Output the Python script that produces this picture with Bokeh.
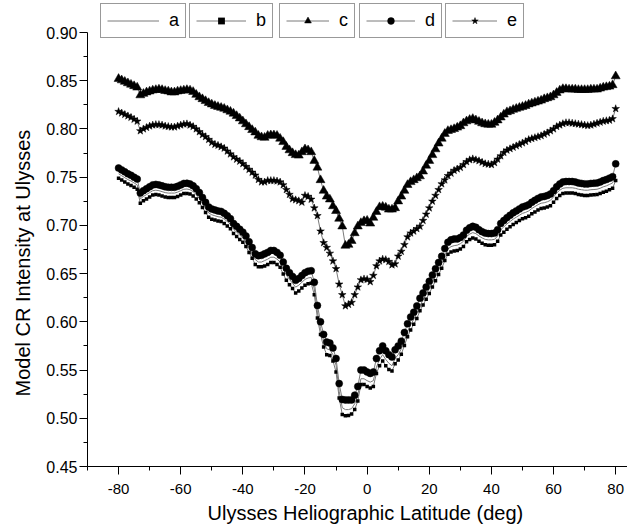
from bokeh.plotting import figure
from bokeh.models import Range1d, FixedTicker, Legend, LegendItem, NumeralTickFormatter, Title
from bokeh.embed import file_html
from bokeh.resources import INLINE

# Heliographic latitude (deg), one sample per degree
lat = list(range(-80, 81))

series_names = ["a", "b", "c", "d", "e"]

a_vals = [
    0.7535, 0.7515, 0.7495, 0.7475, 0.746, 0.744, 0.742, 0.7275, 0.730, 0.732,
    0.734, 0.736, 0.7365, 0.736, 0.735, 0.734, 0.7335, 0.7335, 0.7335, 0.7345,
    0.736, 0.7375, 0.7377, 0.737, 0.735, 0.732, 0.728, 0.723, 0.718, 0.713,
    0.711, 0.710, 0.709, 0.7085, 0.7065, 0.704, 0.701, 0.696, 0.693, 0.690,
    0.687, 0.683, 0.677, 0.671, 0.6645, 0.662, 0.662, 0.6635, 0.665, 0.667,
    0.667, 0.665, 0.662, 0.655, 0.6485, 0.644, 0.640, 0.636, 0.638, 0.641,
    0.644, 0.6455, 0.646, 0.634, 0.610, 0.593, 0.580, 0.572, 0.571, 0.566,
    0.555, 0.528, 0.511, 0.509, 0.509, 0.510, 0.515, 0.524, 0.541, 0.541,
    0.539, 0.5375, 0.539, 0.553, 0.561, 0.566, 0.561, 0.557, 0.5545, 0.562,
    0.566, 0.572, 0.581, 0.590, 0.597, 0.6025, 0.609, 0.617, 0.6225, 0.6285,
    0.6345, 0.641, 0.6475, 0.654, 0.661, 0.669, 0.6755, 0.678, 0.679, 0.6795,
    0.681, 0.6835, 0.6885, 0.691, 0.6925, 0.6915, 0.689, 0.687, 0.6855, 0.685,
    0.685, 0.6855, 0.689, 0.6955, 0.6985, 0.7015, 0.704, 0.7065, 0.7085, 0.7105,
    0.7125, 0.7135, 0.715, 0.7175, 0.7195, 0.7215, 0.723, 0.7235, 0.7245, 0.726,
    0.7295, 0.7335, 0.7365, 0.7385, 0.739, 0.739, 0.739, 0.7385, 0.7375, 0.737,
    0.7365, 0.7365, 0.737, 0.7372, 0.7375, 0.7385, 0.740, 0.741, 0.7425, 0.744,
    0.753,
]

b_vals = [
    0.749, 0.747, 0.745, 0.743, 0.7415, 0.7395, 0.7375, 0.723, 0.7255, 0.7275,
    0.7295, 0.7315, 0.732, 0.7315, 0.7305, 0.7295, 0.729, 0.729, 0.729, 0.730,
    0.7315, 0.733, 0.7332, 0.7325, 0.7305, 0.7275, 0.7235, 0.7185, 0.7135, 0.7085,
    0.7065, 0.7055, 0.7045, 0.704, 0.702, 0.6995, 0.6965, 0.6915, 0.6885, 0.6855,
    0.6825, 0.678, 0.672, 0.666, 0.6595, 0.657, 0.657, 0.658, 0.6595, 0.6615,
    0.6615, 0.6595, 0.6565, 0.6495, 0.643, 0.6385, 0.6345, 0.630, 0.632, 0.635,
    0.638, 0.6395, 0.640, 0.628, 0.604, 0.587, 0.574, 0.566, 0.565, 0.5595,
    0.548, 0.521, 0.504, 0.5025, 0.503, 0.5045, 0.509, 0.518, 0.535, 0.535,
    0.533, 0.5315, 0.533, 0.5465, 0.5545, 0.5595, 0.5545, 0.5505, 0.549, 0.5565,
    0.5605, 0.5665, 0.5755, 0.5845, 0.5915, 0.5975, 0.6035, 0.6115, 0.6175, 0.6235,
    0.6295, 0.636, 0.6425, 0.649, 0.6555, 0.6635, 0.670, 0.6725, 0.6735, 0.674,
    0.6755, 0.678, 0.683, 0.6855, 0.687, 0.686, 0.6835, 0.6815, 0.680, 0.6795,
    0.6795, 0.680, 0.6835, 0.690, 0.693, 0.696, 0.6985, 0.701, 0.703, 0.705,
    0.707, 0.708, 0.7095, 0.712, 0.714, 0.716, 0.7175, 0.718, 0.719, 0.7205,
    0.724, 0.728, 0.731, 0.733, 0.7335, 0.7335, 0.7335, 0.733, 0.732, 0.7315,
    0.731, 0.731, 0.7315, 0.7317, 0.732, 0.733, 0.7345, 0.7355, 0.737, 0.7385,
    0.7465,
]

c_vals = [
    0.852, 0.8505, 0.849, 0.8475, 0.846, 0.8445, 0.843, 0.835, 0.8365, 0.838,
    0.839, 0.840, 0.8405, 0.841, 0.8405, 0.8395, 0.839, 0.838, 0.838, 0.839,
    0.8395, 0.840, 0.8405, 0.840, 0.8385, 0.8355, 0.833, 0.831, 0.829, 0.827,
    0.8255, 0.824, 0.823, 0.822, 0.821, 0.8195, 0.818, 0.816, 0.8135, 0.811,
    0.808, 0.805, 0.802, 0.799, 0.7965, 0.793, 0.7915, 0.791, 0.793, 0.7935,
    0.7935, 0.793, 0.790, 0.7865, 0.7815, 0.778, 0.775, 0.773, 0.7725, 0.776,
    0.779, 0.778, 0.776, 0.767, 0.760, 0.747, 0.736, 0.730, 0.727, 0.720,
    0.715, 0.707, 0.699, 0.679, 0.680, 0.684, 0.692, 0.699, 0.7025, 0.7045,
    0.705, 0.702, 0.708, 0.714, 0.719, 0.7195, 0.7185, 0.7165, 0.7165, 0.718,
    0.725, 0.730, 0.736, 0.742, 0.745, 0.747, 0.749, 0.751, 0.756, 0.762,
    0.767, 0.773, 0.779, 0.785, 0.790, 0.795, 0.798, 0.799, 0.800, 0.8015,
    0.803, 0.806, 0.808, 0.8095, 0.8105, 0.809, 0.8075, 0.806, 0.805, 0.8045,
    0.8045, 0.8065, 0.809, 0.812, 0.815, 0.8175, 0.8185, 0.820, 0.821, 0.822,
    0.823, 0.824, 0.8255, 0.8265, 0.8275, 0.8285, 0.8295, 0.831, 0.832, 0.833,
    0.835, 0.8375, 0.840, 0.8415, 0.8415, 0.841, 0.841, 0.841, 0.8405, 0.8405,
    0.8405, 0.8405, 0.841, 0.841, 0.841, 0.842, 0.843, 0.8435, 0.844, 0.8455,
    0.8547,
]

d_vals = [
    0.7595, 0.7575, 0.7555, 0.7535, 0.752, 0.750, 0.748, 0.7335, 0.736, 0.738,
    0.740, 0.742, 0.7425, 0.742, 0.741, 0.740, 0.7395, 0.7395, 0.7395, 0.7405,
    0.742, 0.7435, 0.7437, 0.743, 0.741, 0.738, 0.734, 0.729, 0.724, 0.719,
    0.717, 0.716, 0.715, 0.7145, 0.7125, 0.710, 0.707, 0.702, 0.699, 0.696,
    0.693, 0.689, 0.683, 0.677, 0.6705, 0.6685, 0.669, 0.6705, 0.672, 0.674,
    0.674, 0.672, 0.669, 0.662, 0.6555, 0.651, 0.647, 0.643, 0.645, 0.648,
    0.651, 0.6525, 0.653, 0.641, 0.617, 0.600, 0.587, 0.579, 0.578, 0.573,
    0.562, 0.536, 0.5195, 0.519, 0.519, 0.519, 0.524, 0.533, 0.550, 0.550,
    0.548, 0.5465, 0.548, 0.562, 0.570, 0.575, 0.570, 0.566, 0.5635, 0.571,
    0.575, 0.580, 0.589, 0.598, 0.605, 0.610, 0.6165, 0.6245, 0.630, 0.636,
    0.642, 0.6485, 0.655, 0.6615, 0.668, 0.676, 0.6825, 0.685, 0.686, 0.686,
    0.6875, 0.690, 0.695, 0.6975, 0.699, 0.698, 0.6955, 0.6935, 0.692, 0.6915,
    0.6915, 0.692, 0.6955, 0.702, 0.705, 0.708, 0.7105, 0.713, 0.715, 0.717,
    0.719, 0.720, 0.7215, 0.724, 0.726, 0.728, 0.7295, 0.730, 0.731, 0.7325,
    0.736, 0.740, 0.743, 0.745, 0.7455, 0.7455, 0.7455, 0.745, 0.744, 0.7435,
    0.743, 0.743, 0.7435, 0.7437, 0.744, 0.745, 0.7465, 0.7475, 0.749, 0.7505,
    0.7638,
]

e_vals = [
    0.818, 0.8165, 0.815, 0.8135, 0.812, 0.810, 0.808, 0.798, 0.800, 0.8015,
    0.803, 0.804, 0.8045, 0.8045, 0.804, 0.803, 0.8025, 0.802, 0.802, 0.803,
    0.804, 0.805, 0.8053, 0.804, 0.8025, 0.800, 0.797, 0.794, 0.792, 0.789,
    0.786, 0.784, 0.783, 0.7815, 0.780, 0.777, 0.774, 0.771, 0.7685, 0.7665,
    0.764, 0.761, 0.758, 0.755, 0.752, 0.7475, 0.745, 0.745, 0.7465, 0.7465,
    0.7465, 0.746, 0.745, 0.742, 0.737, 0.732, 0.7275, 0.7265, 0.7255, 0.724,
    0.731, 0.730, 0.727, 0.718, 0.710, 0.694, 0.682, 0.677, 0.671, 0.663,
    0.655, 0.639, 0.628, 0.6165, 0.618, 0.620, 0.628, 0.636, 0.6435, 0.6445,
    0.644, 0.6415, 0.648, 0.658, 0.663, 0.665, 0.6645, 0.6625, 0.659, 0.660,
    0.668, 0.673, 0.680, 0.688, 0.692, 0.694, 0.6965, 0.699, 0.705, 0.7115,
    0.718, 0.725, 0.731, 0.737, 0.743, 0.747, 0.7515, 0.754, 0.757, 0.7585,
    0.760, 0.763, 0.766, 0.768, 0.769, 0.768, 0.767, 0.7655, 0.764, 0.7635,
    0.763, 0.765, 0.7685, 0.772, 0.7755, 0.778, 0.7795, 0.781, 0.7825, 0.784,
    0.7855, 0.787, 0.789, 0.790, 0.791, 0.792, 0.793, 0.7945, 0.796, 0.798,
    0.800, 0.8025, 0.804, 0.8055, 0.8065, 0.8065, 0.806, 0.8055, 0.805, 0.8045,
    0.804, 0.8035, 0.804, 0.805, 0.806, 0.807, 0.808, 0.8085, 0.809, 0.8105,
    0.821,
]

x_major_ticks = [-80, -60, -40, -20, 0, 20, 40, 60, 80]
x_minor_ticks = [-90, -70, -50, -30, -10, 10, 30, 50, 70]
y_major_ticks = [0.45, 0.50, 0.55, 0.60, 0.65, 0.70, 0.75, 0.80, 0.85, 0.90]
y_minor_ticks = [0.475, 0.525, 0.575, 0.625, 0.675, 0.725, 0.775, 0.825, 0.875]

x_title = "Ulysses Heliographic Latitude (deg)"
y_title = "Model CR Intensity at Ulysses"

for arr in (a_vals, b_vals, c_vals, d_vals, e_vals):
    assert len(arr) == len(lat), len(arr)

FONT = "Liberation Sans"

p = figure(
    width=627, height=532,
    x_range=Range1d(-90, 83.8), y_range=Range1d(0.45, 0.9332),
    output_backend="svg", toolbar_location=None,
    min_border_left=85, min_border_right=0, min_border_top=0, min_border_bottom=66,
)
p.outline_line_color = None
p.xgrid.visible = False
p.ygrid.visible = False

for ax in (p.xaxis[0], p.yaxis[0]):
    ax.axis_line_color = "black"
    ax.axis_line_width = 1
    ax.major_tick_line_color = "black"
    ax.minor_tick_line_color = "black"
    ax.major_tick_in = 0
    ax.major_tick_out = 8
    ax.minor_tick_in = 0
    ax.minor_tick_out = 4
    ax.major_label_text_font = FONT
    ax.major_label_text_color = "black"

p.xaxis.ticker = FixedTicker(ticks=x_major_ticks, minor_ticks=x_minor_ticks)
p.yaxis.ticker = FixedTicker(ticks=y_major_ticks, minor_ticks=y_minor_ticks)
p.yaxis.formatter = NumeralTickFormatter(format="0.00")
p.xaxis.formatter = NumeralTickFormatter(format="0")
p.xaxis.major_label_text_font_size = "15px"
p.yaxis.major_label_text_font_size = "16px"
p.xaxis.major_label_standoff = 9
p.yaxis.major_label_standoff = 2
p.xaxis.bounds = (-90, 83.8)
p.yaxis.bounds = (0.45, 0.90)

# axis titles as side titles so that they can be placed like the original
p.add_layout(Title(text=x_title, align="left", offset=120, standoff=7,
                   text_font=FONT, text_font_size="20px", text_font_style="normal",
                   text_color="black"), "below")
p.add_layout(Title(text=y_title, align="left", offset=70, standoff=19,
                   text_font=FONT, text_font_size="20px", text_font_style="normal",
                   text_color="black"), "left")

LINE = "#7a7a7a"
vals = {"a": a_vals, "b": b_vals, "c": c_vals, "d": d_vals, "e": e_vals}
markers = {"a": None, "b": "square", "c": "triangle", "d": "circle", "e": "star"}
sizes = {"b": 3.5, "c": 9, "d": 7, "e": 8}

renderers = {}
for name in series_names:
    rl = p.line(lat, vals[name], line_color=LINE, line_width=1)
    rs = []
    if markers[name]:
        rs.append(p.scatter(lat, vals[name], marker=markers[name], size=sizes[name],
                            fill_color="black", line_color="black",
                            line_width=0 if name == "b" else 0.5))
    renderers[name] = [rl] + rs

legend_x = [13, 102, 192, 272, 358]
glyph_w = [52, 50, 43, 49, 45]
for i, name in enumerate(series_names):
    leg = Legend(
        items=[LegendItem(label=name, renderers=renderers[name])],
        location=(legend_x[i], 428),
        orientation="horizontal",
        glyph_width=glyph_w[i], glyph_height=17,
        padding=6, margin=0, spacing=0, label_standoff=10,
        label_width=8,
        label_text_font=FONT, label_text_font_size="18px", label_height=17,
        label_text_color="black",
        border_line_color="#333333", border_line_width=1,
        background_fill_color="white", background_fill_alpha=1,
    )
    p.add_layout(leg, "center")

with open("out.html", "w") as f:
    f.write(file_html(p, INLINE))
